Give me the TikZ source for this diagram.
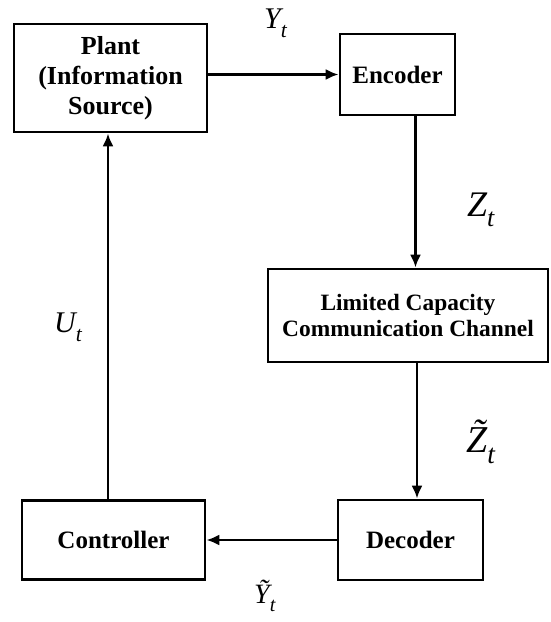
\documentclass[tikz,border=0pt]{standalone}
\usepackage{fontspec}
\setmainfont{Liberation Serif}
\usepackage{tikz}
\usetikzlibrary{arrows.meta, positioning}
\tikzstyle{block} = [rectangle, draw=black, line width=2.8pt, inner sep=0pt, align=center, font=\bfseries\fontsize{25}{30}\selectfont]
\tikzstyle{arrow} = [line width=2.4pt, -{Latex[length=13pt, width=11pt]}]
\tikzstyle{sig} = [inner sep=0pt, anchor=base west, font=\itshape\fontsize{30}{32}\selectfont]
\newcommand{\sub}[1]{\raisebox{-0.3em}{\scalebox{0.72}{\itshape #1}}}

\begin{document}
\begin{tikzpicture}[x=1pt, y=-1pt]
    \useasboundingbox (0,0) rectangle (550,622);
    \node (plant) [block, minimum width=193pt, minimum height=108pt, font=\bfseries\fontsize{26}{30}\selectfont] at (110.5,78) {Plant\\(Information\\Source)};
    \node (encoder) [block, minimum width=115pt, minimum height=81pt, right of=plant, node distance=287pt, yshift=3.5pt] {Encoder};
    \node (channel) [block, minimum width=280pt, minimum height=93pt, below of=encoder, node distance=241pt, xshift=10.5pt, font=\bfseries\fontsize{23.4}{26}\selectfont] {Limited Capacity\\Communication Channel};
    \node (decoder) [block, minimum width=145pt, minimum height=80pt, below of=channel, node distance=224.5pt, xshift=2.5pt] {Decoder};
    \node (controller) [block, minimum width=183pt, minimum height=79pt, left of=decoder, node distance=297pt] {Controller};

    \node (ylab) [sig] at (264,28) {Y\sub{t}};
    \node (zlab) [sig, font=\itshape\fontsize{36}{38}\selectfont] at (467,216) {Z\sub{t}};
    \node (ztlab) [sig, font=\itshape\fontsize{38}{40}\selectfont] at (466,452) {\~Z\sub{t}};
    \node (ulab) [sig] at (54,332) {U\sub{t}};
    \node (ytlab) [sig, font=\itshape\fontsize{28}{30}\selectfont] at (254,603) {\~Y\sub{t}};

    \draw [arrow] (plant.east |- encoder.west) -- (encoder.west);
    \draw [arrow] ([xshift=18pt]encoder.south) -- ([xshift=18pt]encoder.south |- channel.north);
    \draw [arrow] ([xshift=6.5pt]decoder.north |- channel.south) -- ([xshift=6.5pt]decoder.north);
    \draw [arrow] (decoder.west) -- (controller.east);
    \draw [arrow] ([xshift=-5.5pt]controller.north) -- ([xshift=-5.5pt]controller.north |- plant.south);
\end{tikzpicture}
\end{document}
